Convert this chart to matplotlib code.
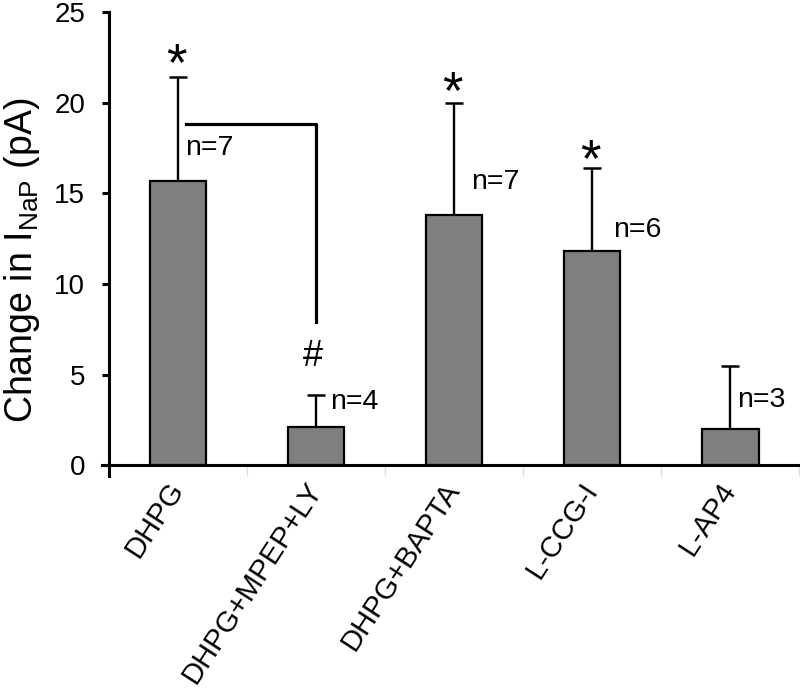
import numpy as np
import matplotlib
matplotlib.use('Agg')
import matplotlib.pyplot as plt

# data
groups = ['DHPG', 'DHPG+MPEP+LY', 'DHPG+BAPTA', 'L-CCG-I', 'L-AP4']
means = [15.7, 2.1, 13.8, 11.8, 2.0]
errs = [5.7, 1.8, 6.2, 4.6, 3.5]
n_labels = ['n=7', 'n=4', 'n=7', 'n=6', 'n=3']
n_pos = [(0.05, 17.5), (0.1, 3.5), (0.12, 15.6), (0.15, 13.0), (0.05, 3.6)]
star_y = [22.0, None, 20.5, 16.7, None]

plt.rcParams['font.family'] = ['Liberation Sans', 'DejaVu Sans']
plt.rcParams['mathtext.fontset'] = 'custom'
plt.rcParams['mathtext.rm'] = 'Liberation Sans'

fig = plt.figure(figsize=(8, 6.95), dpi=100)
ax = fig.add_axes([0.1275, 0.315, 0.875, 0.6676])

x = np.arange(len(groups))
ax.bar(x, means, width=0.41, color='#7f7f7f', edgecolor='black', linewidth=1.6, zorder=2)
ax.errorbar(x, means, yerr=[np.zeros(len(errs)), errs], fmt='none', ecolor='black',
            elinewidth=1.7, capsize=6.5, capthick=1.8, zorder=1)

for i, lab in enumerate(n_labels):
    ax.text(x[i] + n_pos[i][0], n_pos[i][1], lab, fontsize=20.5, ha='left', va='center')
for i, sy in enumerate(star_y):
    if sy is not None:
        ax.text(x[i] - 0.01, sy, '*', fontsize=38, ha='center', va='center')

# significance bracket between DHPG and DHPG+MPEP+LY
ax.plot([0.055, 1.0, 1.0], [18.8, 18.8, 7.9], color='black', lw=2.3, zorder=3)
ax.text(0.98, 6.0, '#', fontsize=26, ha='center', va='center')

ax.set_xlim(-0.55, 4.52)
ax.set_ylim(-0.6, 25)
ax.set_yticks([0, 5, 10, 15, 20, 25])
ax.spines['top'].set_visible(False)
ax.spines['right'].set_visible(False)
ax.spines['left'].set_position(('data', -0.5))
ax.spines['bottom'].set_position(('data', 0))
ax.spines['left'].set_linewidth(2.2)
ax.spines['bottom'].set_linewidth(2.2)
ax.tick_params(axis='y', direction='out', length=5, width=2.2, labelsize=20, pad=12)
ax.tick_params(axis='x', which='major', length=0, labelsize=21, pad=14)
ax.set_xticks(x + 0.5, minor=True)
ax.tick_params(axis='x', which='minor', length=8, width=1, color='#dddddd')
ax.set_xticks(x)
ax.set_xticklabels(groups, rotation=57, ha='right', va='center', rotation_mode='anchor')

ax.set_ylabel(r'Change in I$_{\mathrm{NaP}}$ (pA)', fontsize=27)
ax.yaxis.set_label_coords(-0.085, 0.466)

fig.savefig('out.png', dpi=100)
